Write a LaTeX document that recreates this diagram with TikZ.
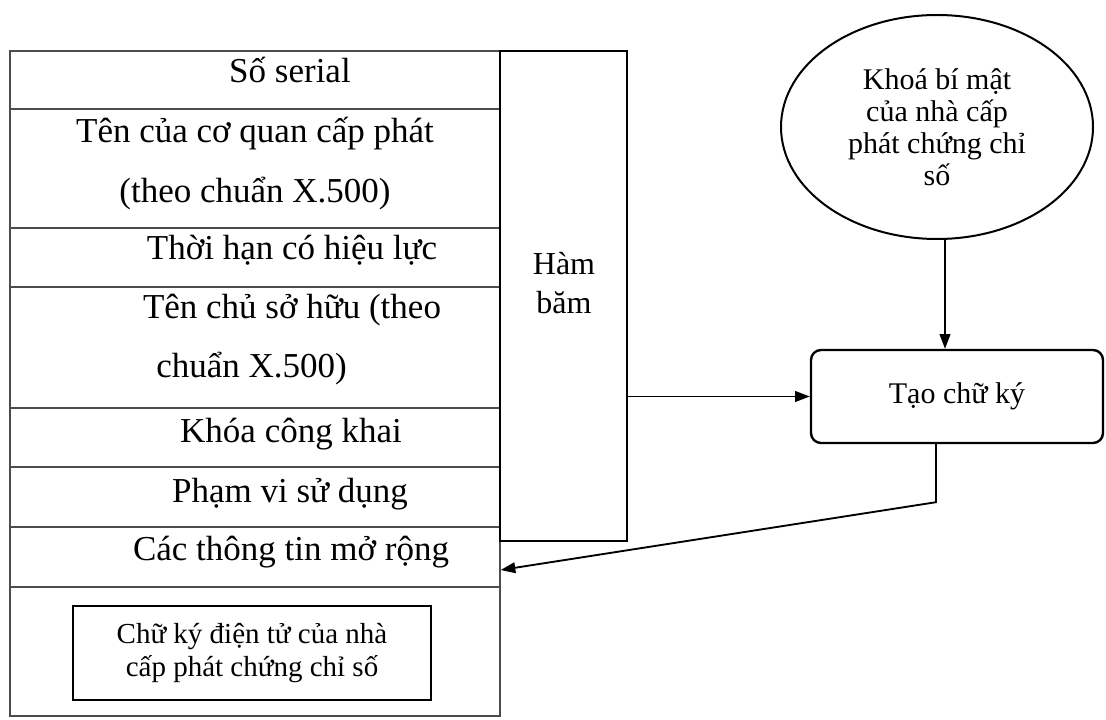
\documentclass[tikz,border=0pt]{standalone}
\usepackage{fontspec}
\setmainfont{Liberation Serif}
\usetikzlibrary{shapes.geometric,arrows.meta}

\begin{document}
\begin{tikzpicture}[x=0.75pt,y=0.75pt,yscale=-1,xscale=1,
  row/.style={draw=black!70,line width=1pt,minimum width=367.5pt,inner sep=0pt},
  cell/.style={anchor=base,inner sep=0pt,font=\fontsize{26.25}{30}\selectfont},
  conn/.style={line width=1.4pt,-{Triangle[length=11pt,width=8pt]}}]
\useasboundingbox (0,0) rectangle (1106,720);

%Table: certificate fields
\node[row,minimum height=43.5pt] (serial) at (255,80) {};
\node[row,minimum height=89.25pt] (issuer) at (255,168.5) {};
\node[row,minimum height=44.25pt] (validity) at (255,257.5) {};
\node[row,minimum height=90.75pt] (owner) at (255,347.5) {};
\node[row,minimum height=44.25pt] (pubkey) at (255,437.5) {};
\node[row,minimum height=45pt] (usage) at (255,497) {};
\node[row,minimum height=45pt] (info) at (255,557) {};
\node[row,minimum height=96.75pt] (sigrow) at (255,651.5) {};

%Texts of the fields
\node[cell] (serialtxt) at (290,83) {Số serial};
\node[cell] (issuertxta) at (255,143) {Tên của cơ quan cấp phát};
\node[cell] (issuertxtb) at (255,203) {(theo chuẩn X.500)};
\node[cell] (validitytxt) at (292,260) {Thời hạn có hiệu lực};
\node[cell] (ownertxta) at (292,318) {Tên chủ sở hữu (theo};
\node[cell,anchor=base west] (ownertxtb) at (156,377) {chuẩn X.500)};
\node[cell] (pubkeytxt) at (291,442) {Khóa công khai};
\node[cell] (usagetxt) at (290,502) {Phạm vi sử dụng};
\node[cell] (infotxt) at (291,560) {Các thông tin mở rộng};

%Shape: Rectangle (signature field)
\node[draw,line width=1.6pt,minimum width=268.5pt,minimum height=70.5pt,inner sep=0pt,
  align=center,font=\fontsize{21.75}{24.75}\selectfont] (sigbox) at (252,653) {Chữ ký điện tử của nhà\\cấp phát chứng chỉ số};

%Shape: Rectangle (hash)
\node[draw,line width=2.2pt,minimum width=95.25pt,minimum height=367.5pt,inner sep=0pt] (hash) at (563.5,296) {};
\node[align=center,font=\fontsize{24}{29.25}\selectfont] (hashtxt) at (564,283) {Hàm\\băm};

%Shape: Ellipse (private key)
\node[ellipse,draw,line width=1.5pt,minimum width=234pt,minimum height=168pt,inner sep=0pt,
  align=center,font=\fontsize{22.5}{24}\selectfont] (key) at (937,127) {Khoá bí mật\\của nhà cấp\\phát chứng chỉ\\số};

%Shape: Rounded rectangle (signing)
\node[draw,rounded corners=7.5pt,line width=1.8pt,minimum width=219pt,minimum height=69.75pt,
  font=\fontsize{22.5}{26}\selectfont] (sign) at (957,396.5) {Tạo chữ ký};

%Straight Lines
\draw[conn] (hash.east |- sign.west) -- (sign.west);
\draw[conn] ([xshift=6pt]key.south) -- ([xshift=6pt]key.south |- sign.north);
\draw[conn] ([xshift=-15.75pt]sign.south) -- ++(0,58) -- ([yshift=9.75pt]info.east);

\end{tikzpicture}
\end{document}
